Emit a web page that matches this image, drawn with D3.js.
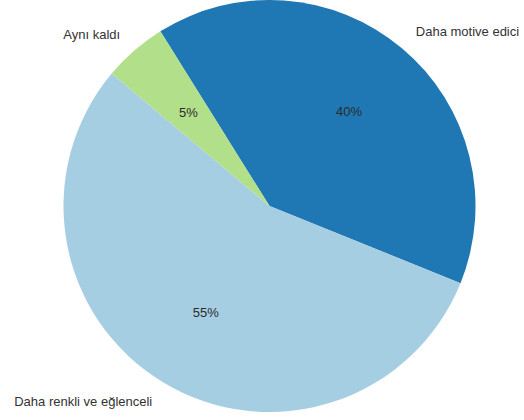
<!DOCTYPE html>
<html>
<head>
<meta charset="utf-8">
<script src="https://cdn.jsdelivr.net/npm/d3@7"></script>
<style>
  body { margin: 0; background: #fff; }
  text { font-family: "Liberation Sans", Arial, sans-serif; }
</style>
</head>
<body>
<script>
// Chart data
var categories = ["Daha motive edici", "Daha renkli ve eğlenceli", "Aynı kaldı"];
var values = [40, 55, 5];
var colors = ["#1f78b4", "#a6cee3", "#b2df8a"];

var width = 524,
    height = 420,
    radius = 206,
    cx = 269.5,
    cy = 206;

var svg = d3.select("body").append("svg")
    .attr("width", width)
    .attr("height", height);

var g = svg.append("g")
    .attr("transform", "translate(" + cx + "," + cy + ")");

// first slice starts a bit left of 12 o'clock
var start = -32 * Math.PI / 180;

var pie = d3.pie()
    .sort(null)
    .value(function(d) { return d; })
    .startAngle(start)
    .endAngle(start + 2 * Math.PI);

var arcs = pie(values);

var arc = d3.arc().innerRadius(0).outerRadius(radius);
var pctArc = d3.arc().innerRadius(radius * 0.6).outerRadius(radius * 0.6);
var outerArc = d3.arc().innerRadius(radius * 1.105).outerRadius(radius * 1.105);

var color = d3.scaleOrdinal().domain(categories).range(colors);

g.selectAll("path")
    .data(arcs)
    .enter()
    .append("path")
    .attr("d", arc)
    .style("fill", function(d, i) { return color(categories[i]); });

// percentage labels inside the slices
var total = d3.sum(values);
g.selectAll("text.pct")
    .data(arcs)
    .enter()
    .append("text")
    .attr("class", "pct")
    .attr("transform", function(d) { return "translate(" + pctArc.centroid(d) + ")"; })
    .attr("text-anchor", "middle")
    .attr("dy", "0.35em")
    .style("font-size", "13px")
    .style("fill", "#2b2b2b")
    .text(function(d) { return Math.round(d.value / total * 100) + "%"; });

// category labels outside
g.selectAll("text.cat")
    .data(arcs)
    .enter()
    .append("text")
    .attr("class", "cat")
    .attr("transform", function(d) { return "translate(" + outerArc.centroid(d) + ")"; })
    .attr("text-anchor", function(d) {
      var mid = (d.startAngle + d.endAngle) / 2;
      return Math.sin(mid) >= 0 ? "start" : "end";
    })
    .attr("dy", "0.35em")
    .style("font-size", "13px")
    .style("fill", "#333")
    .text(function(d, i) { return categories[i]; });
</script>
</body>
</html>
